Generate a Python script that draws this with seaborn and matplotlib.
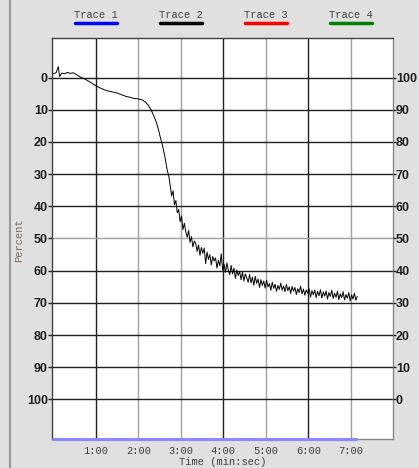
import numpy as np
import pandas as pd
import seaborn as sns
import matplotlib.pyplot as plt
import matplotlib.transforms as mtransforms

sns.set_style("white")
plt.rcParams['font.family'] = ['Liberation Sans', 'DejaVu Sans']

# sample time (seconds) and percent reading for Trace 2
seconds = [0, 4, 7, 9, 12, 16, 20, 24, 28, 32, 37, 45, 52, 60, 66, 72, 78, 84, 90,
           96, 102, 108, 114, 120, 126, 130, 134, 138, 142, 145, 148, 151, 154,
           157, 159, 161, 163,
           165, 167, 169, 171, 173, 175, 177, 179, 181, 183, 185, 187, 189, 191,
           193, 195, 197, 199, 201, 203, 205, 207, 209, 211, 213, 215, 217, 219,
           221, 223, 225, 227, 229, 231, 233, 235, 237, 239, 241, 243, 245, 247,
           249, 251, 253, 255, 257, 259, 261, 263, 265, 267, 269, 271, 273, 275,
           277, 279, 281, 283, 285, 287, 289, 291, 293, 295, 297, 299, 301, 303,
           305, 307, 309, 311, 313, 315, 317, 319, 321, 323, 325, 327, 329, 331,
           333, 335, 337, 339, 341, 343, 345, 347, 349, 351, 353, 355, 357, 359,
           361, 363, 365, 367, 369, 371, 373, 375, 377, 379, 381, 383, 385, 387,
           389, 391, 393, 395, 397, 399, 401, 403, 405, 407, 409, 411, 413, 415,
           417, 419, 421, 423, 425, 427, 429]
percent = [-1.2, -1.5, -3.4, -0.3, -1.4, -1.2, -1.6, -1.3, -1.5, -1.0, -0.3, 0.5,
           1.4, 2.5, 3.2, 3.8, 4.2, 4.5, 4.8, 5.3, 5.8, 6.1, 6.5, 6.6, 7.0, 7.6,
           8.6, 10.0, 12.0, 13.6, 15.8, 18.5, 21.0, 24.0, 26.5, 29.0, 30.5,
           33.5, 36.8, 35.2, 39.5, 38.2, 42.0, 41.0, 44.8, 43.0, 47.2, 45.3, 48.0,
           49.6, 47.5, 51.2, 49.4, 52.6, 50.8, 51.5, 54.0, 52.0, 55.2, 52.8, 54.6,
           53.0, 57.8, 54.2, 56.5, 55.0, 58.2, 55.6, 57.0, 56.0, 59.2, 56.8, 58.5,
           54.8, 59.8, 58.0, 60.5, 57.6, 59.9, 61.2, 58.4, 61.0, 59.2, 62.4, 59.8,
           61.5, 60.2, 62.8, 60.5, 63.2, 61.0, 62.2, 63.6, 61.2, 63.8, 62.0, 64.5,
           61.8, 63.9, 62.6, 65.2, 62.8, 64.6, 63.2, 65.4, 63.0, 65.0, 64.0, 66.1,
           63.6, 65.5, 64.2, 66.4, 64.6, 65.8, 63.9, 66.0, 64.8, 66.5, 64.3, 66.2,
           65.0, 67.1, 64.9, 66.4, 65.2, 67.4, 65.6, 66.8, 64.8, 67.2, 65.7, 67.6,
           66.0, 67.0, 65.6, 68.2, 66.2, 67.5, 66.0, 68.4, 66.4, 67.8, 65.9, 68.5,
           66.6, 67.9, 66.3, 68.8, 66.8, 68.0, 66.1, 68.6, 67.0, 68.3, 66.4, 69.0,
           67.2, 68.4, 66.5, 69.1, 67.4, 68.6, 66.8, 69.4, 67.5, 68.8, 67.0, 69.2,
           68.0]

trace_names = ["Trace 1", "Trace 2", "Trace 3", "Trace 4"]
trace_colors = ["#0000ff", "#000000", "#ff0000", "#008000"]

left_ticks = [0, 10, 20, 30, 40, 50, 60, 70, 80, 90, 100]
right_labels = ["100", "90", "80", "70", "60", "50", "40", "30", "20", "10", "0"]
time_ticks = [1, 2, 3, 4, 5, 6, 7]
time_labels = ["1:00", "2:00", "3:00", "4:00", "5:00", "6:00", "7:00"]

df = pd.DataFrame({"minutes": np.array(seconds) / 60.0, "percent": percent})

bg = "#e0e0e0"
fig = plt.figure(figsize=(4.19, 4.68), dpi=100, facecolor=bg)
ax = fig.add_axes([52 / 419, 29 / 468, 341 / 419, 401 / 468])
ax.set_facecolor("white")

# grid, drawn line by line to get the mix of dark and grey lines
vcols = ["#202020", "#a0a0a0", "#a0a0a0", "#202020", "#a0a0a0", "#202020", "#a0a0a0"]
for t, c in zip(time_ticks, vcols):
    ax.axvline(t, color=c, lw=1, zorder=1)
for v in left_ticks:
    ax.axhline(v, color="#a0a0a0" if v == 50 else "#202020", lw=1, zorder=1)

sns.lineplot(data=df, x="minutes", y="percent", ax=ax, color="black", lw=0.7, zorder=3)

ax.set_xlim(-0.03, 7.99)
ax.set_ylim(112.3, -12.3)
ax.set_xticks(time_ticks)
ax.set_xticklabels(time_labels, family="Liberation Mono", fontsize=7.5, color="#404040")
ax.set_yticks(left_ticks)
ax.set_yticklabels([str(v) for v in left_ticks], fontsize=9, fontweight="bold", color="#202020")
ax.tick_params(axis="x", length=0, pad=5)
ax.tick_params(axis="y", length=3, width=1, color="#202020", pad=0, direction="out")
ax.set_xlabel("Time (min:sec)", family="Liberation Mono", fontsize=7.5, color="#404040", labelpad=1)
ax.set_ylabel("")

for side in ["left", "top"]:
    ax.spines[side].set_color("#404040")
for side in ["right", "bottom"]:
    ax.spines[side].set_color("#888888")
for sp in ax.spines.values():
    sp.set_linewidth(1)

# blue range bar along the bottom edge
trans = mtransforms.blended_transform_factory(ax.transData, ax.transAxes)
ax.plot([-0.03, df["minutes"].iloc[-1]], [0, 0], color="#8888ff", lw=2.2,
        transform=trans, clip_on=False, zorder=5, solid_capstyle="butt")

ax2 = ax.twinx()
ax2.set_ylim(ax.get_ylim())
ax2.set_yticks(left_ticks)
ax2.set_yticklabels(right_labels, fontsize=9, fontweight="bold", color="#202020")
ax2.tick_params(axis="y", length=2, width=1, color="#202020", pad=0, direction="out")
for sp in ax2.spines.values():
    sp.set_visible(False)

# trace legend along the top
for name, col, t in zip(trace_names, trace_colors, [1, 3, 5, 7]):
    x = ax.transData.transform((t, 0))[0] / fig.bbox.width
    fig.text(x, 1 - 15.5 / 468, name, ha="center", va="center",
             family="Liberation Mono", fontsize=7.5, color="#404040")
    fig.add_artist(plt.Line2D([x - 21 / 419, x + 21 / 419], [1 - 22.5 / 468] * 2,
                              color=col, lw=2.5, solid_capstyle="round"))

fig.text(19 / 419, 1 - 240 / 468, "Percent", rotation=90, ha="center", va="center",
         family="Liberation Mono", fontsize=7.5, color="#7a6a5a")

# window border on the left
fig.add_artist(plt.Line2D([10 / 419, 10 / 419], [0, 1], color="#999999", lw=1.5))

fig.savefig("out.png", dpi=100, facecolor=bg)
